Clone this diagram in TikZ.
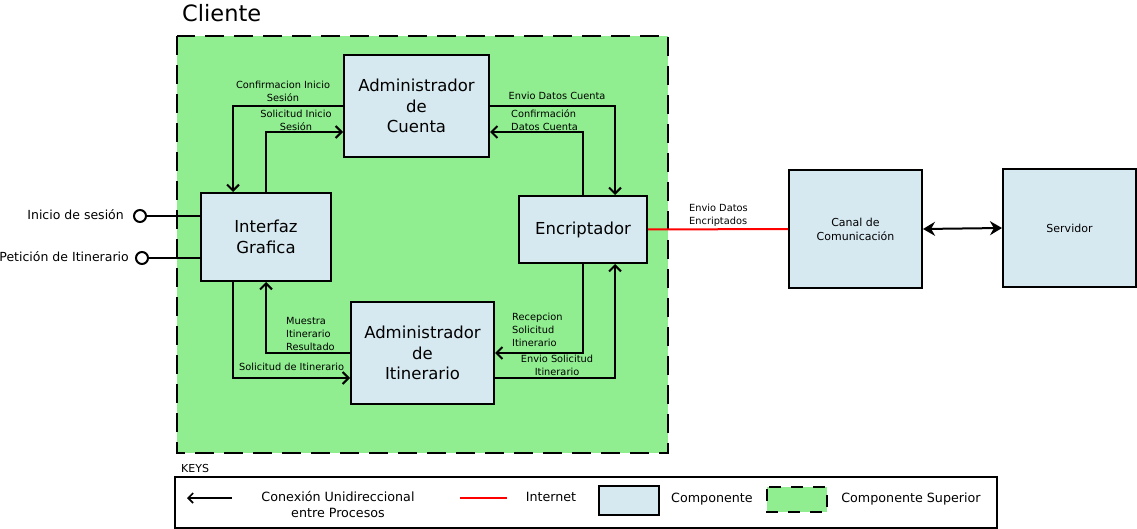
\documentclass[tikz,border=0pt]{standalone}
\usepackage{fontspec}
\setmainfont{DejaVu Sans}
\usetikzlibrary{arrows.meta}
\definecolor{cgreen}{HTML}{90EE90}
\definecolor{cblue}{HTML}{D7E9F0}
\tikzset{
  comp/.style={draw=black, fill=cblue, line width=2pt, rectangle, inner sep=0pt, align=center, font=\fontsize{16.5}{20.5}\selectfont},
  smallcomp/.style={comp, font=\fontsize{11}{14}\selectfont},
  conn/.style={line width=2pt, -{Straight Barb[length=6pt,width=12pt,line width=2pt]}},
  lbl/.style={inner sep=0pt, align=center, font=\fontsize{9.8}{13}\selectfont},
  lbll/.style={lbl, align=left, anchor=west},
  keytxt/.style={inner sep=0pt, align=center, font=\fontsize{12.7}{16}\selectfont},
  port/.style={circle, draw=black, line width=2pt, fill=white, minimum size=12pt, inner sep=0pt},
}
\begin{document}
\begin{tikzpicture}[x=1pt,y=-1pt]
\useasboundingbox (0,0) rectangle (1137,529);
% Cliente container
\fill[cgreen] (177,36) rectangle (668,453);
\draw[line width=2.8pt, dash pattern=on 19pt off 10pt] (177,36) rectangle (668,453);
\node[anchor=west, inner sep=0pt, font=\fontsize{22.5}{26}\selectfont] (cli) at (182,13) {Cliente};
% components
\node[comp, minimum width=145pt, minimum height=102pt] (ac) at (416.5,106) {Administrador\\de\\Cuenta};
\node[comp, minimum width=130pt, minimum height=88pt] (ig) at (266,237) {Interfaz\\Grafica};
\node[comp, minimum width=128pt, minimum height=67pt] (en) at (583,229.5) {Encriptador};
\node[comp, minimum width=143pt, minimum height=102pt] (ai) at (422.5,353) {Administrador\\de\\Itinerario};
\node[smallcomp, minimum width=133pt, minimum height=118pt] (ca) at (855.5,229) {Canal de\\Comunicación};
\node[smallcomp, minimum width=133pt, minimum height=118pt] (sv) at (1069.5,228) {Servidor};
% connectors
\draw[conn] (ac.west) -| ([xshift=-33pt]ig.north);
\draw[conn] (ig.north) |- ([yshift=-26pt]ac.west);
\draw[conn] (ac.east) -| ([xshift=32pt]en.north);
\draw[conn] (en.north) |- ([yshift=-26pt]ac.east);
\draw[conn] (ai.west) -| (ig.south);
\draw[conn] ([xshift=-33pt]ig.south) |- ([yshift=-25pt]ai.west);
\draw[conn] (en.south) |- (ai.east);
\draw[conn] ([yshift=-25pt]ai.east) -| ([xshift=32pt]en.south);
\draw[red, line width=2pt] (en.east) -- (ca.west);
\draw[line width=2pt, {Stealth[length=12pt,width=14pt]}-{Stealth[length=12pt,width=14pt]}] (ca.east) -- (sv.west);
% ports
\node[port] (p1) at (140,216) {};
\node[port] (p2) at (142,258) {};
\draw[line width=2pt] (p1.east) -- (ig.west |- p1.east);
\draw[line width=2pt] (p2.east) -- (ig.west |- p2.east);
\node[anchor=east, inner sep=0pt, font=\fontsize{12.5}{15}\selectfont] (t1) at (124,215) {Inicio de sesión};
\node[anchor=east, inner sep=0pt, font=\fontsize{12.5}{15}\selectfont] (t2) at (129,257) {Petición de Itinerario};
% labels
\node[lbl] (l1) at (283,91) {Confirmacion Inicio\\Sesión};
\node[lbl] (l2) at (296,120) {Solicitud Inicio\\Sesión};
\node[lbl] (l3) at (557,96) {Envio Datos Cuenta};
\node[lbll] (l4) at (511,120) {Confirmación\\Datos Cuenta};
\node[lbll] (l5) at (286,334) {Muestra\\Itinerario\\Resultado};
\node[lbll] (l6) at (239,367) {Solicitud de Itinerario};
\node[lbll] (l7) at (512,330) {Recepcion\\Solicitud\\Itinerario};
\node[lbl] (l8) at (557,365.5) {Envio Solicitud\\Itinerario};
\node[lbll] (l9) at (689,215.5) {Envio Datos\\Encriptados};
% keys
\node[anchor=west, inner sep=0pt, font=\fontsize{11}{13}\selectfont] (keys) at (181,468) {KEYS};
\draw[line width=2pt] (175,477) rectangle (997,528);
\coordinate (ka1) at (232,498);
\coordinate (ka2) at (187,498);
\draw[line width=1.6pt, -{Straight Barb[length=5pt,width=10pt,line width=1.6pt]}] (ka1) -- (ka2);
\node[keytxt] (k1) at (338,505) {Conexión Unidireccional\\entre Procesos};
\coordinate (kr1) at (460,498);
\coordinate (kr2) at (507,498);
\draw[red, line width=2pt] (kr1) -- (kr2);
\node[keytxt] (k2) at (551,497) {Internet};
\node[draw=black, fill=cblue, line width=2pt, minimum width=60pt, minimum height=29pt, inner sep=0pt] (kb) at (629,500.5) {};
\node[keytxt] (k3) at (712,499) {Componente};
\fill[cgreen] (767,487) rectangle (827,512);
\draw[line width=2.4pt, dash pattern=on 12pt off 10pt, dash phase=-2pt] (767,487) rectangle (827,512);
\node[keytxt] (k4) at (911,499) {Componente Superior};
\end{tikzpicture}
\end{document}
